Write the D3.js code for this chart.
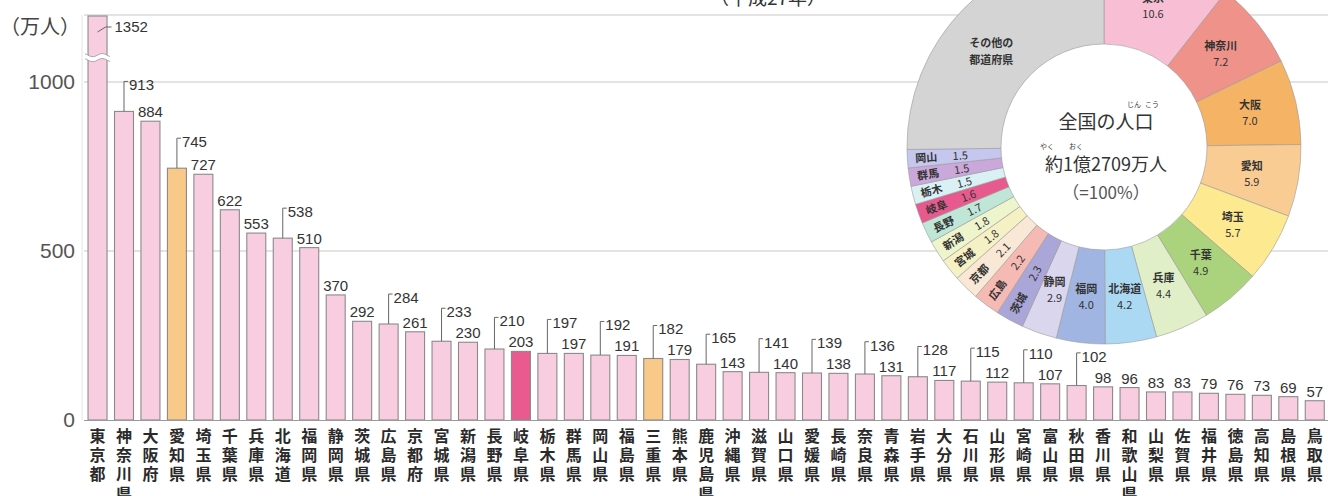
<!DOCTYPE html>
<html><head><meta charset="utf-8">
<script src="https://cdn.jsdelivr.net/npm/d3@7"></script>
<style>
html,body{margin:0;padding:0;background:#fff;}
svg{display:block;}
</style></head>
<body>
<svg id="chart" width="1328" height="496"></svg>
<script>
// ---- data ----
const categories = ["東京都","神奈川県","大阪府","愛知県","埼玉県","千葉県","兵庫県","北海道","福岡県","静岡県",
  "茨城県","広島県","京都府","宮城県","新潟県","長野県","岐阜県","栃木県","群馬県","岡山県",
  "福島県","三重県","熊本県","鹿児島県","沖縄県","滋賀県","山口県","愛媛県","長崎県","奈良県",
  "青森県","岩手県","大分県","石川県","山形県","宮崎県","富山県","秋田県","香川県","和歌山県",
  "山梨県","佐賀県","福井県","徳島県","高知県","島根県","鳥取県"];
const populations = [1352,913,884,745,727,622,553,538,510,370,
  292,284,261,233,230,210,203,197,197,192,
  191,182,179,165,143,141,140,139,138,136,
  131,128,117,115,112,110,107,102,98,96,
  83,83,79,76,73,69,57];
const leaderLabeled = ["神奈川県","愛知県","北海道","広島県","宮城県","長野県","栃木県","岡山県","三重県",
  "鹿児島県","滋賀県","愛媛県","奈良県","岩手県","石川県","宮崎県","秋田県"];
const orangeBars = ["愛知県","三重県"];
const pinkBars = ["岐阜県"];
const yTicks = [0,500,1000];
const yUnit = "（万人）";
const title = "（平成27年）";

const pieNames = ["東京","神奈川","大阪","愛知","埼玉","千葉","兵庫","北海道","福岡","静岡",
  "茨城","広島","京都","宮城","新潟","長野","岐阜","栃木","群馬","岡山","その他の都道府県"];
const pieValues = [10.6,7.2,7.0,5.9,5.7,4.9,4.4,4.2,4.0,2.9,
  2.3,2.2,2.1,1.8,1.8,1.7,1.6,1.5,1.5,1.5,25.2];
const pieColors = ["#f7bed4","#ef928a","#f5b366","#f9cc93","#fde98f","#abd37d","#e1efc9","#abd9f4","#a0b5e1","#dad6ee",
  "#aba6d8","#f6bab4","#f9e8d5","#f5f1c4","#eef4cc","#c0e6d7","#e85a8d","#d9f1f5","#caa8d9","#c5c7ee","#d4d4d4"];

// ---- layout ----
const svg = d3.select("#chart");
const x = d3.scaleBand().domain(categories).range([84.3, 1328]).paddingInner(0.282).paddingOuter(0.141);
const y = d3.scaleLinear().domain([0, 1000, 1352]).range([420, 82, 16]);
const bw = x.bandwidth();
const cx = d => x(d) + bw / 2;

// title (mostly cropped)
svg.append("text").attr("x", 768).attr("y", 5).attr("text-anchor", "middle")
  .attr("font-family", "Noto Sans CJK JP").attr("font-size", 19).attr("fill", "#333").text(title);

// gridlines
const grid = svg.append("g");
grid.append("line").attr("x1", 84).attr("x2", 1328).attr("y1", y(1352) - 1).attr("y2", y(1352) - 1)
  .attr("stroke", "#c8c8c8").attr("stroke-width", 1.2);
grid.selectAll("line.g").data(yTicks.filter(t => t > 0)).join("line").attr("class", "g")
  .attr("x1", 84).attr("x2", 1328).attr("y1", d => y(d)).attr("y2", d => y(d))
  .attr("stroke", "#c8c8c8").attr("stroke-width", 1.2);

// y axis
const yAxis = d3.axisLeft(y).tickValues(yTicks).tickFormat(d3.format("d")).tickSize(0).tickPadding(7);
const ya = svg.append("g").attr("transform", "translate(82,0)").call(yAxis);
ya.select(".domain").attr("stroke", "#e4e4e4").attr("d", `M0,${y(1352)-1}V420`);
ya.selectAll("text").attr("font-family", "Liberation Sans, Arial").attr("font-size", 21).attr("fill", "#555");
svg.append("text").attr("x", 0).attr("y", 34).attr("font-family", "Noto Sans CJK JP")
  .attr("font-size", 20).attr("fill", "#444").text(yUnit);

// bars
svg.append("g").selectAll("rect").data(categories).join("rect")
  .attr("x", d => x(d)).attr("width", bw)
  .attr("y", (d, i) => y(populations[i])).attr("height", (d, i) => y(0) - y(populations[i]))
  .attr("fill", d => orangeBars.includes(d) ? "#f9c98a" : pinkBars.includes(d) ? "#e95b8e" : "#f9cde0")
  .attr("stroke", "#8a8a8a").attr("stroke-width", 1.1);

// baseline
svg.append("line").attr("x1", 84).attr("x2", 1328).attr("y1", y(0) + 0.5).attr("y2", y(0) + 0.5)
  .attr("stroke", "#9a9a9a").attr("stroke-width", 1);

// break marks on tallest bar
{
  const c0 = categories[0];
  const yb = y(1130);
  const xs = d3.range(x(c0) - 3, x(c0) + bw + 4, 1);
  const wave = (off) => xs.map(px => [px, yb + off + 1.6 * Math.sin((px - x(c0)) / bw * 2 * Math.PI)]);
  const top = wave(-2.5), bot = wave(2.5);
  svg.append("path").attr("d", d3.line()(top.concat(bot.slice().reverse())) + "Z").attr("fill", "#fff");
  svg.append("path").attr("d", d3.line()(top)).attr("fill", "none").attr("stroke", "#999").attr("stroke-width", 0.8);
  svg.append("path").attr("d", d3.line()(bot)).attr("fill", "none").attr("stroke", "#999").attr("stroke-width", 0.8);
}

// value labels
const lab = svg.append("g").attr("font-family", "Liberation Sans, Arial").attr("font-size", 15).attr("fill", "#333");
categories.forEach((c, i) => {
  const v = populations[i];
  if (i === 0) {
    const yy = y(v) + 11;
    lab.append("path").attr("d", `M${cx(c)},${yy + 5}L${cx(c) + 8},${yy}L${cx(c) + 14},${yy}`)
      .attr("fill", "none").attr("stroke", "#666").attr("stroke-width", 1);
    lab.append("text").attr("x", cx(c) + 17).attr("y", yy + 5).text(v);
  } else if (leaderLabeled.includes(c)) {
    const nextTop = y(populations[i + 1]) - 10;
    const ly = Math.min(nextTop, y(v) - 6) - 20;
    lab.append("path").attr("d", `M${cx(c)},${y(v)}V${ly - 4}H${cx(c) + 4}`)
      .attr("fill", "none").attr("stroke", "#666").attr("stroke-width", 1);
    lab.append("text").attr("x", cx(c) + 5).attr("y", ly + 5).text(v);
  } else {
    lab.append("text").attr("x", cx(c)).attr("y", y(v) - 4).attr("text-anchor", "middle").text(v);
  }
});

// x labels (vertical writing)
const xl = svg.append("g").attr("font-family", "Noto Sans CJK JP").attr("font-weight", 700)
  .attr("font-size", 16).attr("fill", "#2a2a2a");
xl.selectAll("text").data(categories).join("text")
  .attr("x", d => cx(d)).attr("y", 428)
  .style("writing-mode", "vertical-rl").style("text-orientation", "upright")
  .attr("letter-spacing", 3.2)
  .text(d => d);

// ---- donut ----
const pc = [1104, 147];
const rIn = 103, rOut = 197;
const pieG = svg.append("g").attr("transform", `translate(${pc[0]},${pc[1]})`);
const arcs = d3.pie().sort(null).value(d => d)(pieValues);
const arc = d3.arc().innerRadius(rIn).outerRadius(rOut);
pieG.append("circle").attr("r", rIn).attr("fill", "#fff");
pieG.selectAll("path").data(arcs).join("path").attr("d", arc)
  .attr("fill", (d, i) => pieColors[i]).attr("stroke", "#9a9a9a").attr("stroke-width", 0.6);

const pl = pieG.append("g").attr("font-family", "Noto Sans CJK JP").attr("font-size", 11).attr("fill", "#333")
  .attr("text-anchor", "middle");
arcs.forEach((a, i) => {
  const mid = (a.startAngle + a.endAngle) / 2;
  const deg = mid * 180 / Math.PI;
  const name = pieNames[i];
  if (i === pieNames.length - 1) {
    const r = 150, px = r * Math.sin(mid), py = -r * Math.cos(mid) + 8;
    pl.append("text").attr("x", px - 6).attr("y", py - 3).attr("font-weight", 700).text("その他の");
    pl.append("text").attr("x", px - 6).attr("y", py + 14).attr("font-weight", 700).text("都道府県");
  } else if (i < 10) {
    const r = 150, px = r * Math.sin(mid), py = -r * Math.cos(mid);
    pl.append("text").attr("x", px).attr("y", py - 3).attr("font-weight", 700).text(name);
    pl.append("text").attr("x", px).attr("y", py + 13).text(pieValues[i].toFixed(1));
  } else {
    const rot = deg - 270;
    const g = pl.append("g").attr("transform", `rotate(${rot})`);
    g.append("text").attr("x", -178).attr("y", 4).attr("font-weight", 700).text(name);
    g.append("text").attr("x", -144).attr("y", 4).text(pieValues[i].toFixed(1));
  }
});

// center text
const ct = pieG.append("g").attr("font-family", "Noto Sans CJK JP").attr("fill", "#333").attr("text-anchor", "middle");
ct.append("text").attr("x", 2).attr("y", -18).attr("font-size", 19).text("全国の人口");
ct.append("text").attr("x", 30).attr("y", -40).attr("font-size", 7).text("じん");
ct.append("text").attr("x", 48).attr("y", -40).attr("font-size", 7).text("こう");
ct.append("text").attr("x", 2).attr("y", 24).attr("font-size", 18).text("約1億2709万人");
ct.append("text").attr("x", -57).attr("y", 2).attr("font-size", 7).text("やく");
ct.append("text").attr("x", -28).attr("y", 2).attr("font-size", 7).text("おく");
ct.append("text").attr("x", 2).attr("y", 52).attr("font-size", 17).attr("fill", "#555").text("（=100%）");
</script>
</body></html>
